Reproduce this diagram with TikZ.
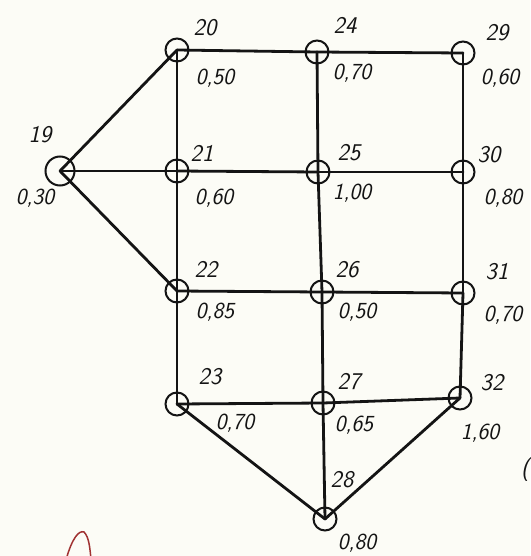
\documentclass[tikz,border=0pt]{standalone}
\usetikzlibrary{positioning}
\definecolor{NetInk}{RGB}{20,20,20}
\definecolor{NetPaper}{RGB}{252,252,246}
\definecolor{NetRed}{RGB}{160,50,50}
\tikzset{
  net/junction/.style={
    circle,
    draw=NetInk,
    line width=2pt,
    inner sep=0pt,
    minimum size=23pt
  },
  net/source/.style={net/junction, minimum size=29pt},
  net/pipe/.style={draw=NetInk, line width=2.8pt, line cap=round},
  net/num/.style={font=\fontsize{24}{28}\selectfont\sffamily\slshape, text=NetInk, inner sep=0pt},
  net/val/.style={font=\fontsize{23}{28}\selectfont\sffamily\slshape, text=NetInk, inner sep=0pt}
}
\begin{document}
\begin{tikzpicture}[x=1pt,y=-1pt]
  \fill[NetPaper] (0,0) rectangle (530,556);
  \useasboundingbox (0,0) rectangle (530,556);
  \clip (0,0) rectangle (530,556);
  % junctions
  \node[net/source] (n19) at (60,171) {};
  \foreach \name/\x/\y in {
    20/177/50,21/177/171,22/177/291,23/177/404,
    24/317/52,25/318/172,26/322/292,27/323/403,28/325/519,
    29/463/53,30/463/172,31/463/293,32/460/398}
  {\node[net/junction] (n\name) at (\x,\y) {};}
  % pipes
  \foreach \a/\b in {
    19/20,19/21,19/22,20/24,24/29,21/25,25/30,22/26,26/31,23/27,27/32,
    20/21,21/22,22/23,24/25,25/26,26/27,27/28,29/30,30/31,31/32,23/28,28/32}
  {\draw[net/pipe] (n\a.center) -- (n\b.center);}
  % numbers and loads
  \foreach \name/\x/\y/\load/\lx/\ly in {
    19/40/135/{0,30}/35/198,
    20/205/28/{0,50}/215/78,
    21/202/153/{0,60}/214/198,
    22/206/269/{0,85}/215/312,
    23/210/377/{0,70}/235/423,
    24/345/25/{0,70}/352/73,
    25/349/153/{1,00}/352/193,
    26/347/270/{0,50}/357/312,
    27/349/382/{0,65}/354/425,
    28/342/480/{0,80}/357/543,
    29/497/33/{0,60}/500/78,
    30/489/155/{0,80}/503/198,
    31/497/272/{0,70}/503/315,
    32/492/383/{1,60}/480/433}
  {\node[net/num] (lab\name) at (\x,\y) {\name};
   \node[net/val] (val\name) at (\lx,\ly) {\load};}
  % scraps at the page edge
  \node[net/num, anchor=west] (edge) at (521,470) {(};
  \draw[NetRed, line width=1.5pt] (66,560) .. controls (72,538) and (79,530) .. (84,532)
    .. controls (89,537) and (90,548) .. (91,560);
\end{tikzpicture}
\end{document}
